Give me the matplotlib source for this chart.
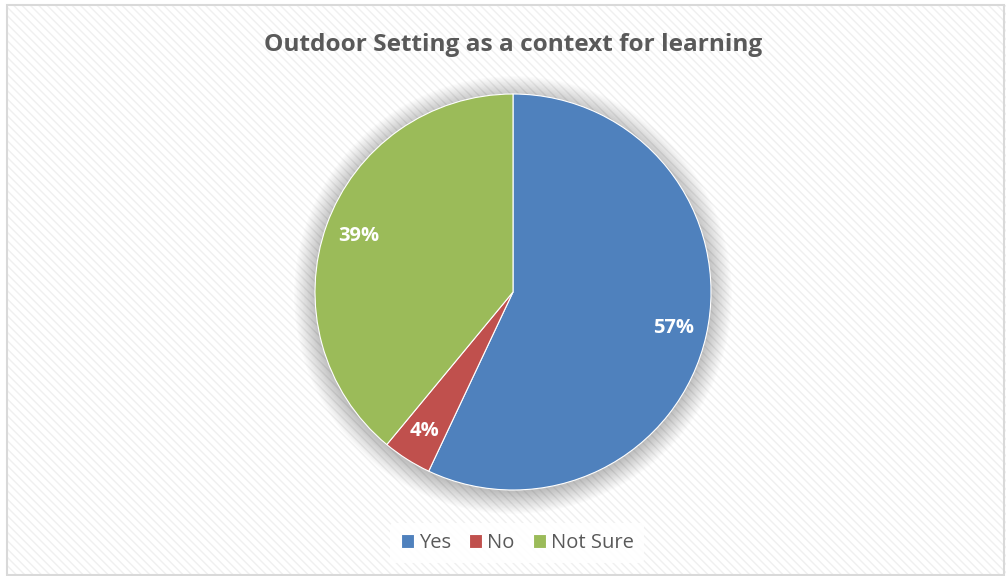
import matplotlib.pyplot as plt
from matplotlib.patches import Rectangle, Circle

labels = ['Yes', 'No', 'Not Sure']
values = [57, 4, 39]
colors = ['#4F81BD', '#C0504D', '#9BBB59']
title = 'Outdoor Setting as a context for learning'

plt.rcParams['font.family'] = ['Open Sans', 'DejaVu Sans']

W, H = 1006, 576
fig = plt.figure(figsize=(W / 100, H / 100), dpi=100)
fig.patch.set_facecolor('white')

# striped background + border
bg = Rectangle((7 / W, 0), (W - 7) / W, (H - 5) / H, transform=fig.transFigure,
               facecolor='#ffffff', edgecolor='#f0f0f0', hatch='\\\\\\\\', lw=0, zorder=-5)
fig.patches.append(bg)
border = Rectangle((7 / W, 1 / H), (W - 9) / W, (H - 6) / H, transform=fig.transFigure,
                   facecolor='none', edgecolor='#d9d9d9', lw=1.5, zorder=-4)
fig.patches.append(border)

# pie axes centred at (513, 292) px, radius 198 px
cx, cy, r = 513, 292, 198
pad = 30
ax = fig.add_axes([(cx - r - pad) / W, (H - cy - r - pad) / H,
                   (2 * r + 2 * pad) / W, (2 * r + 2 * pad) / H])
ax.set_zorder(2)

# soft shadow
for i in range(16):
    ax.add_patch(Circle((0, -0.015), 1 + i * 0.007, facecolor='#000000', alpha=0.015,
                        lw=0, zorder=0))

wedges, texts, autotexts = ax.pie(values, colors=colors, startangle=90, counterclock=False,
                                  radius=1, autopct='%d%%', pctdistance=0.83,
                                  wedgeprops=dict(edgecolor='white', linewidth=0.8),
                                  textprops=dict(color='white', fontsize=14.5, fontweight='bold'))
for w in wedges:
    w.set_zorder(2)
for t in autotexts:
    t.set_zorder(3)

ax.set_xlim(-1 - pad / r, 1 + pad / r)
ax.set_ylim(-1 - pad / r, 1 + pad / r)
ax.set_aspect('equal')
ax.axis('off')

fig.text(cx / W, 1 - 45 / H, title, ha='center', va='center', fontsize=17.6,
         fontweight='bold', color='#595959')

leg = fig.legend(wedges, labels, loc='center', bbox_to_anchor=(517 / W, 1 - 543 / H),
                 ncol=3, frameon=True, fontsize=14.5, handlelength=0.65, handleheight=0.65,
                 handletextpad=0.25, columnspacing=0.9, borderpad=0.5)
leg.get_frame().set_facecolor('white')
leg.get_frame().set_edgecolor('none')
leg.get_frame().set_alpha(0.9)
for t in leg.get_texts():
    t.set_color('#595959')

fig.savefig('out.png', dpi=100)
